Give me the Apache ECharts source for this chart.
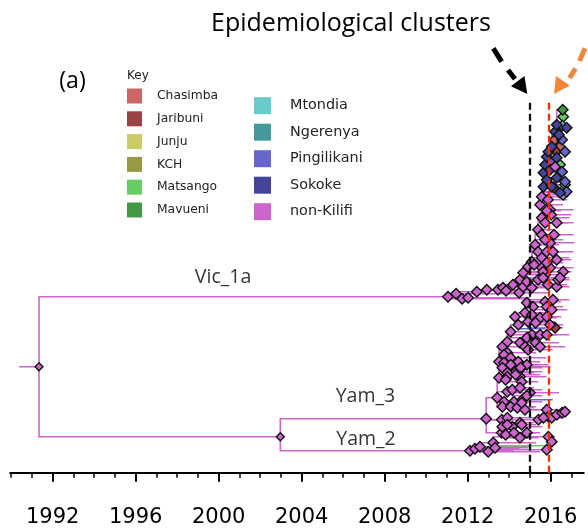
<!DOCTYPE html>
<html>
<head>
    <meta charset="utf-8">
    <script src="https://cdn.jsdelivr.net/npm/echarts@6.0.0/dist/echarts.min.js"></script>
    <style>
        html, body { margin: 0; padding: 0; background: #fff; }
    </style>
</head>
<body>
    <div id="main" style="width: 588px;height:529px;"></div>
    <script type="text/javascript">
        // 地点 / 颜色
        var locations = ['Chasimba', 'Jaribuni', 'Junju', 'KCH', 'Matsango', 'Mavueni',
                         'Mtondia', 'Ngerenya', 'Pingilikani', 'Sokoke', 'non-Kilifi'];
        var locColours = ['#cc6666', '#994444', '#cccc66', '#999944', '#66cc66', '#449944',
                          '#66cccc', '#449999', '#6666cc', '#444499', '#cc66cc'];
        var yearLabels = [1992, 1996, 2000, 2004, 2008, 2012, 2016];
        var clusterYears = [2015.0, 2015.93]; // 黑线, 红线

        // 节点: [年份, 行, 地点, 父节点序号, 末端年份(0 = 无)]
        var rootStemStart = 1990.38;
        var backbone = [
            [1991.34, 106, 10, -1, 0],
            [2002.97, 36, 10, 0, 0]
        ];
        var vic1a = [
            [2011.05, 176, 10, -1, 0], [2011.44, 179, 10, 0, 2014.50], [2011.73, 174, 10, 0, 2014.80],
            [2012.02, 175, 10, 1, 2015.00], [2012.44, 181, 10, 1, 0], [2012.92, 183, 10, 4, 2015.20],
            [2013.46, 183, 10, 5, 0], [2013.70, 185, 10, 6, 0], [2013.85, 182, 10, 6, 2015.10],
            [2014.18, 188, 10, 7, 0], [2014.48, 180, 10, 8, 2015.90], [2014.52, 193, 10, 9, 2015.70],
            [2014.67, 186, 10, 9, 2016.30], [2014.85, 191, 10, 11, 2016.00], [2014.67, 200, 10, 11, 2015.80],
            [2014.91, 206, 10, 14, 2016.30], [2015.09, 211, 10, 15, 2016.50], [2015.25, 228, 10, 16, 2016.40],
            [2015.39, 221, 10, 16, 2016.30], [2015.39, 243, 10, 17, 2016.20], [2015.57, 238, 10, 19, 2016.50],
            [2015.57, 255, 10, 19, 2016.90], [2015.49, 268, 10, 21, 2016.60], [2015.57, 276, 10, 22, 2016.80],
            [2015.09, 185, 10, 12, 2016.20], [2015.39, 193, 10, 13, 2016.40], [2015.87, 188, 10, 13, 2016.80],
            [2016.29, 186, 10, 13, 2016.90], [2015.73, 198, 10, 14, 2016.60], [2016.36, 193, 10, 14, 2016.90],
            [2015.57, 205, 10, 15, 2016.40], [2015.97, 205, 10, 15, 2017.10], [2016.60, 201, 10, 15, 2017.00],
            [2015.57, 215, 10, 16, 2016.90], [2016.29, 213, 10, 16, 2017.00], [2015.81, 221, 10, 18, 2016.70],
            [2015.97, 230, 10, 17, 2017.15], [2015.73, 233, 10, 17, 2016.60], [2015.73, 250, 10, 21, 2016.80],
            [2016.29, 250, 10, 21, 2017.10], [2015.87, 273, 10, 22, 2016.80], [2015.97, 263, 10, 22, 2017.10],
            [2016.02, 258, 10, 21, 2017.00], [2015.20, 208, 10, 15, 2016.00], [2015.81, 210, 10, 16, 2016.60],
            [2015.63, 201, 10, 14, 2016.20], [2015.63, 195, 10, 13, 2016.50], [2016.45, 195, 10, 13, 2016.90],
            [2016.16, 238, 10, 19, 2017.10], [2015.81, 262, 10, 22, 2016.50], [2016.11, 221, 10, 18, 2017.10],
            // 顶部彩色簇
            [2015.65, 286, 9, 23, 0], [2015.65, 300, 9, 51, 0], [2015.73, 308, 9, 52, 0],
            [2015.81, 316, 9, 53, 0], [2015.89, 321, 9, 54, 0], [2016.05, 326, 9, 55, 0],
            [2016.21, 341, 9, 56, 0], [2016.29, 348, 9, 57, 0], [2016.58, 363, 5, 58, 2016.75],
            [2016.60, 356, 4, 58, 0], [2016.56, 347, 6, 58, 0], [2016.77, 345, 9, 57, 0],
            [2016.40, 338, 9, 57, 0], [2016.19, 333, 0, 56, 0], [2016.55, 333, 8, 56, 0],
            [2016.45, 326, 0, 56, 0], [2016.26, 321, 1, 55, 0], [2016.69, 321, 8, 55, 0],
            [2016.29, 315, 9, 54, 0], [2016.05, 310, 8, 53, 0], [2016.21, 306, 10, 53, 0],
            [2016.45, 308, 4, 53, 0], [2015.97, 303, 9, 52, 0], [2016.55, 301, 8, 52, 0],
            [2015.81, 293, 9, 51, 0], [2016.29, 295, 9, 51, 0], [2016.69, 291, 8, 51, 0],
            [2016.05, 286, 9, 51, 0], [2016.16, 285, 1, 51, 0], [2016.69, 288, 4, 51, 0],
            [2016.45, 280, 9, 23, 0], [2016.60, 278, 6, 23, 0], [2016.77, 281, 8, 23, 0]
        ];
        var yam3 = [
            [2012.89, 54, 10, -1, 0], [2013.42, 75, 10, 0, 0], [2013.64, 40, 10, 0, 0],
            [2013.51, 95, 10, 1, 0], [2013.51, 111, 10, 3, 0], [2013.67, 126, 10, 4, 2015.20],
            [2013.91, 131, 10, 5, 2015.50], [2014.07, 141, 10, 6, 2015.70], [2014.44, 148, 10, 7, 0],
            [2014.76, 160, 10, 8, 2016.20], [2014.85, 170, 10, 9, 2016.10], [2015.15, 166, 10, 9, 2016.30],
            [2014.28, 156, 10, 8, 2015.90], [2015.73, 171, 10, 10, 2016.50], [2016.11, 173, 10, 10, 2016.90],
            [2015.81, 166, 10, 11, 2016.60], [2016.05, 163, 10, 11, 2016.80], [2015.09, 158, 10, 9, 2016.00],
            [2015.49, 155, 10, 17, 2016.30], [2015.81, 156, 10, 17, 2016.50], [2014.91, 151, 10, 8, 2016.20],
            [2015.27, 150, 10, 20, 2016.20], [2015.97, 148, 10, 20, 2016.60], [2016.21, 145, 1, 20, 2016.60],
            [2015.09, 138, 10, 7, 2016.20], [2014.85, 135, 10, 7, 2015.90], [2015.49, 138, 10, 24, 2016.30],
            [2015.81, 138, 10, 24, 2016.90], [2015.27, 130, 10, 25, 2016.40], [2014.52, 130, 10, 6, 2015.60],
            [2015.49, 126, 10, 29, 2016.70], [2014.76, 126, 10, 29, 2015.80], [2014.91, 123, 10, 31, 2016.10],
            [2013.91, 120, 10, 5, 2015.30], [2013.75, 118, 10, 4, 0], [2014.07, 115, 10, 34, 2015.80],
            [2014.44, 111, 10, 34, 2015.50], [2013.75, 110, 10, 4, 0], [2014.07, 108, 10, 37, 2015.50],
            [2014.63, 106, 10, 36, 2016.00], [2014.85, 108, 10, 36, 2015.90], [2013.67, 105, 10, 3, 0],
            [2014.31, 101, 10, 41, 2015.60], [2014.55, 105, 10, 41, 2015.60], [2013.91, 100, 10, 41, 2015.20],
            [2013.91, 96, 10, 3, 0], [2014.52, 96, 10, 45, 2015.80], [2013.83, 93, 10, 3, 0],
            [2014.60, 91, 10, 47, 2015.40], [2014.31, 98, 10, 44, 2015.50], [2013.91, 81, 10, 1, 0],
            [2014.15, 83, 10, 50, 2015.60], [2014.52, 85, 10, 51, 2015.20], [2015.00, 80, 10, 51, 2016.40],
            [2013.75, 71, 10, 1, 0], [2014.23, 71, 10, 54, 2015.60], [2014.63, 73, 10, 55, 2015.00],
            [2013.67, 66, 10, 1, 0], [2014.07, 66, 10, 57, 2015.30], [2014.39, 65, 10, 58, 2015.20],
            [2014.76, 63, 10, 58, 2015.50], [2015.81, 63, 10, 60, 2016.40], [2015.41, 53, 10, 0, 2016.00],
            [2015.89, 56, 10, 62, 2016.40], [2016.05, 55, 10, 62, 2016.60], [2016.29, 58, 10, 63, 2016.80],
            [2016.55, 60, 10, 65, 2016.90], [2013.64, 53, 10, 0, 0], [2013.91, 55, 10, 67, 2015.30],
            [2013.67, 46, 10, 2, 0], [2014.15, 46, 10, 69, 2015.60], [2014.52, 50, 10, 68, 2015.20],
            [2013.83, 38, 10, 2, 2015.00], [2014.23, 40, 10, 72, 2015.30], [2014.85, 40, 10, 73, 2015.50],
            [2014.52, 35, 10, 72, 2015.40], [2014.85, 77, 10, 51, 2015.60], [2014.60, 70, 10, 55, 0],
            [2013.91, 48, 10, 69, 0], [2014.60, 48, 10, 70, 2015.30], [2016.69, 61, 10, 66, 0],
            [2015.65, 55, 10, 62, 0]
        ];
        var yam2 = [
            [2012.11, 22, 10, -1, 2014.20], [2012.35, 24, 10, 0, 2014.50], [2012.59, 26, 10, 1, 2015.00],
            [2012.99, 21, 10, 0, 2015.50], [2013.23, 30, 10, 2, 2015.30], [2013.32, 25, 10, 2, 2014.90],
            [2015.89, 36, 10, 4, 2016.20], [2016.05, 31, 10, 6, 2016.30], [2015.81, 23, 10, 4, 2016.10]
        ];
        // 彩色末端: [行, 起, 止, 地点]
        var colourTips = [
            [144, 2014.52, 2015.73, 8],
            [73, 2015.00, 2016.10, 8],
            [27, 2013.56, 2016.10, 4]
        ];

        var lineColour = '#cc66cc';
        var branches = [];
        var nodesByLoc = locations.map(function () { return []; });

        function addTree(list, attach, size) {
            list.forEach(function (n) {
                var p = n[3] >= 0 ? list[n[3]] : attach;
                if (p) {
                    branches.push({ coords: [[p[0], p[1]], [p[0], n[1]], [n[0], n[1]]] });
                }
                if (n[4]) {
                    branches.push({ coords: [[n[0], n[1]], [n[4], n[1]]] });
                }
                nodesByLoc[n[2]].push({ value: [n[0], n[1]], symbolSize: size });
            });
        }
        branches.push({ coords: [[rootStemStart, backbone[0][1]], [backbone[0][0], backbone[0][1]]] });
        addTree(backbone, null, 8);
        addTree(vic1a, backbone[0], 10.5);
        addTree(yam3, backbone[1], 10.5);
        addTree(yam2, backbone[1], 10.5);
        colourTips.forEach(function (t) {
            branches.push({ coords: [[t[1], t[0]], [t[2], t[0]]], lineStyle: { color: locColours[t[3]] } });
        });

        var myChart = echarts.init(document.getElementById('main'));

        var series = [{
            type: 'lines',
            coordinateSystem: 'cartesian2d',
            polyline: true,
            silent: true,
            z: 1,
            lineStyle: { color: lineColour, width: 1.6, opacity: 1 },
            data: branches
        }];
        locations.forEach(function (name, i) {
            series.push({
                name: name,
                type: 'scatter',
                symbol: 'diamond',
                z: 2,
                itemStyle: { color: locColours[i], borderColor: '#111', borderWidth: 1.4, opacity: 1 },
                data: nodesByLoc[i]
            });
        });
        // 分支标签
        series.push({
            type: 'scatter',
            symbolSize: 0,
            silent: true,
            z: 3,
            label: {
                show: true,
                position: 'inside',
                formatter: function (p) { return p.value[2]; },
                fontFamily: 'Open Sans',
                fontSize: 19.5,
                color: '#000'
            },
            data: [[2000.21, 195, 'Vic_1a'], [2007.07, 76, 'Yam_3'], [2007.10, 33, 'Yam_2']]
        });
        // 流行病学聚类虚线
        series.push({
            type: 'line',
            data: [],
            z: 10,
            markLine: {
                silent: true,
                symbol: 'none',
                label: { show: false },
                data: [
                    [{ coord: [clusterYears[0], 0], lineStyle: { color: '#111' } }, { coord: [clusterYears[0], 373] }],
                    [{ coord: [clusterYears[1], 0], lineStyle: { color: '#ff2a00' } }, { coord: [clusterYears[1], 371] }]
                ],
                lineStyle: { type: [7, 4], width: 2.3 }
            }
        });

        var option = {
            animation: false,
            grid: {
                left: -30.3, right: -45.7, top: 72.7, bottom: 56.3,
                outerBoundsMode: 'none'
            },
            legend: [{
                orient: 'vertical',
                left: 127, top: 88.5,
                padding: 0,
                icon: 'rect',
                itemWidth: 15, itemHeight: 15, itemGap: 7.8,
                selectedMode: false,
                itemStyle: { borderWidth: 0 },
                textStyle: { fontFamily: 'DejaVu Sans', fontSize: 12.3, color: '#222', padding: [0, 0, 0, 10] },
                data: locations.slice(0, 6)
            }, {
                orient: 'vertical',
                left: 254, top: 97.2,
                padding: 0,
                icon: 'rect',
                itemWidth: 17, itemHeight: 17, itemGap: 9.5,
                selectedMode: false,
                itemStyle: { borderWidth: 0 },
                textStyle: { fontFamily: 'DejaVu Sans', fontSize: 14.4, color: '#222', padding: [0, 0, 0, 14] },
                data: locations.slice(6)
            }],
            xAxis: {
                type: 'value',
                min: 1988, max: 2020, interval: 4,
                axisLine: { show: true, onZero: false, lineStyle: { color: '#000', width: 2 } },
                axisTick: { show: true, length: 9, lineStyle: { color: '#000', width: 2 } },
                minorTick: { show: true, splitNumber: 4, length: 5, lineStyle: { color: '#000', width: 1.5 } },
                splitLine: { show: false },
                axisLabel: {
                    margin: 34,
                    fontFamily: 'DejaVu Sans',
                    fontSize: 21,
                    color: '#000',
                    formatter: function (v) { return yearLabels.indexOf(v) >= 0 ? String(v) : ''; }
                }
            },
            yAxis: { type: 'value', min: 0, max: 400, show: false },
            graphic: [
                { type: 'rect', shape: { x: 0, y: 466, width: 9.5, height: 14 }, style: { fill: '#fff' }, z: 100 },
                { type: 'rect', shape: { x: 584.5, y: 466, width: 4, height: 14 }, style: { fill: '#fff' }, z: 100 },
                { type: 'text', x: 351, y: 24, style: { text: 'Epidemiological clusters', font: '25px "Open Sans"', fill: '#000', align: 'center', verticalAlign: 'middle' } },
                { type: 'text', x: 72.5, y: 81, style: { text: '(a)', font: '23px "Open Sans"', fill: '#000', align: 'center', verticalAlign: 'middle' } },
                { type: 'text', x: 127, y: 76, style: { text: 'Key', font: '12px "DejaVu Sans"', fill: '#222', align: 'left', verticalAlign: 'middle' } },
                // 黑色箭头
                { type: 'line', shape: { x1: 493.3, y1: 48.3, x2: 501.7, y2: 61.7 }, style: { stroke: '#000', lineWidth: 5 } },
                { type: 'line', shape: { x1: 508, y1: 70, x2: 515, y2: 79 }, style: { stroke: '#000', lineWidth: 5 } },
                { type: 'polygon', shape: { points: [[527.3, 94], [510.9, 86.3], [524.5, 76.1]] }, style: { fill: '#000' } },
                // 橙色箭头
                { type: 'line', shape: { x1: 585, y1: 48.3, x2: 579.5, y2: 61 }, style: { stroke: '#f0883a', lineWidth: 5 } },
                { type: 'line', shape: { x1: 575.5, y1: 68.5, x2: 569.5, y2: 78 }, style: { stroke: '#f0883a', lineWidth: 5 } },
                { type: 'polygon', shape: { points: [[554, 94], [555.9, 75.9], [569.9, 85.4]] }, style: { fill: '#f0883a' } }
            ],
            series: series
        };
        myChart.setOption(option);
    </script>
</body>
</html>
